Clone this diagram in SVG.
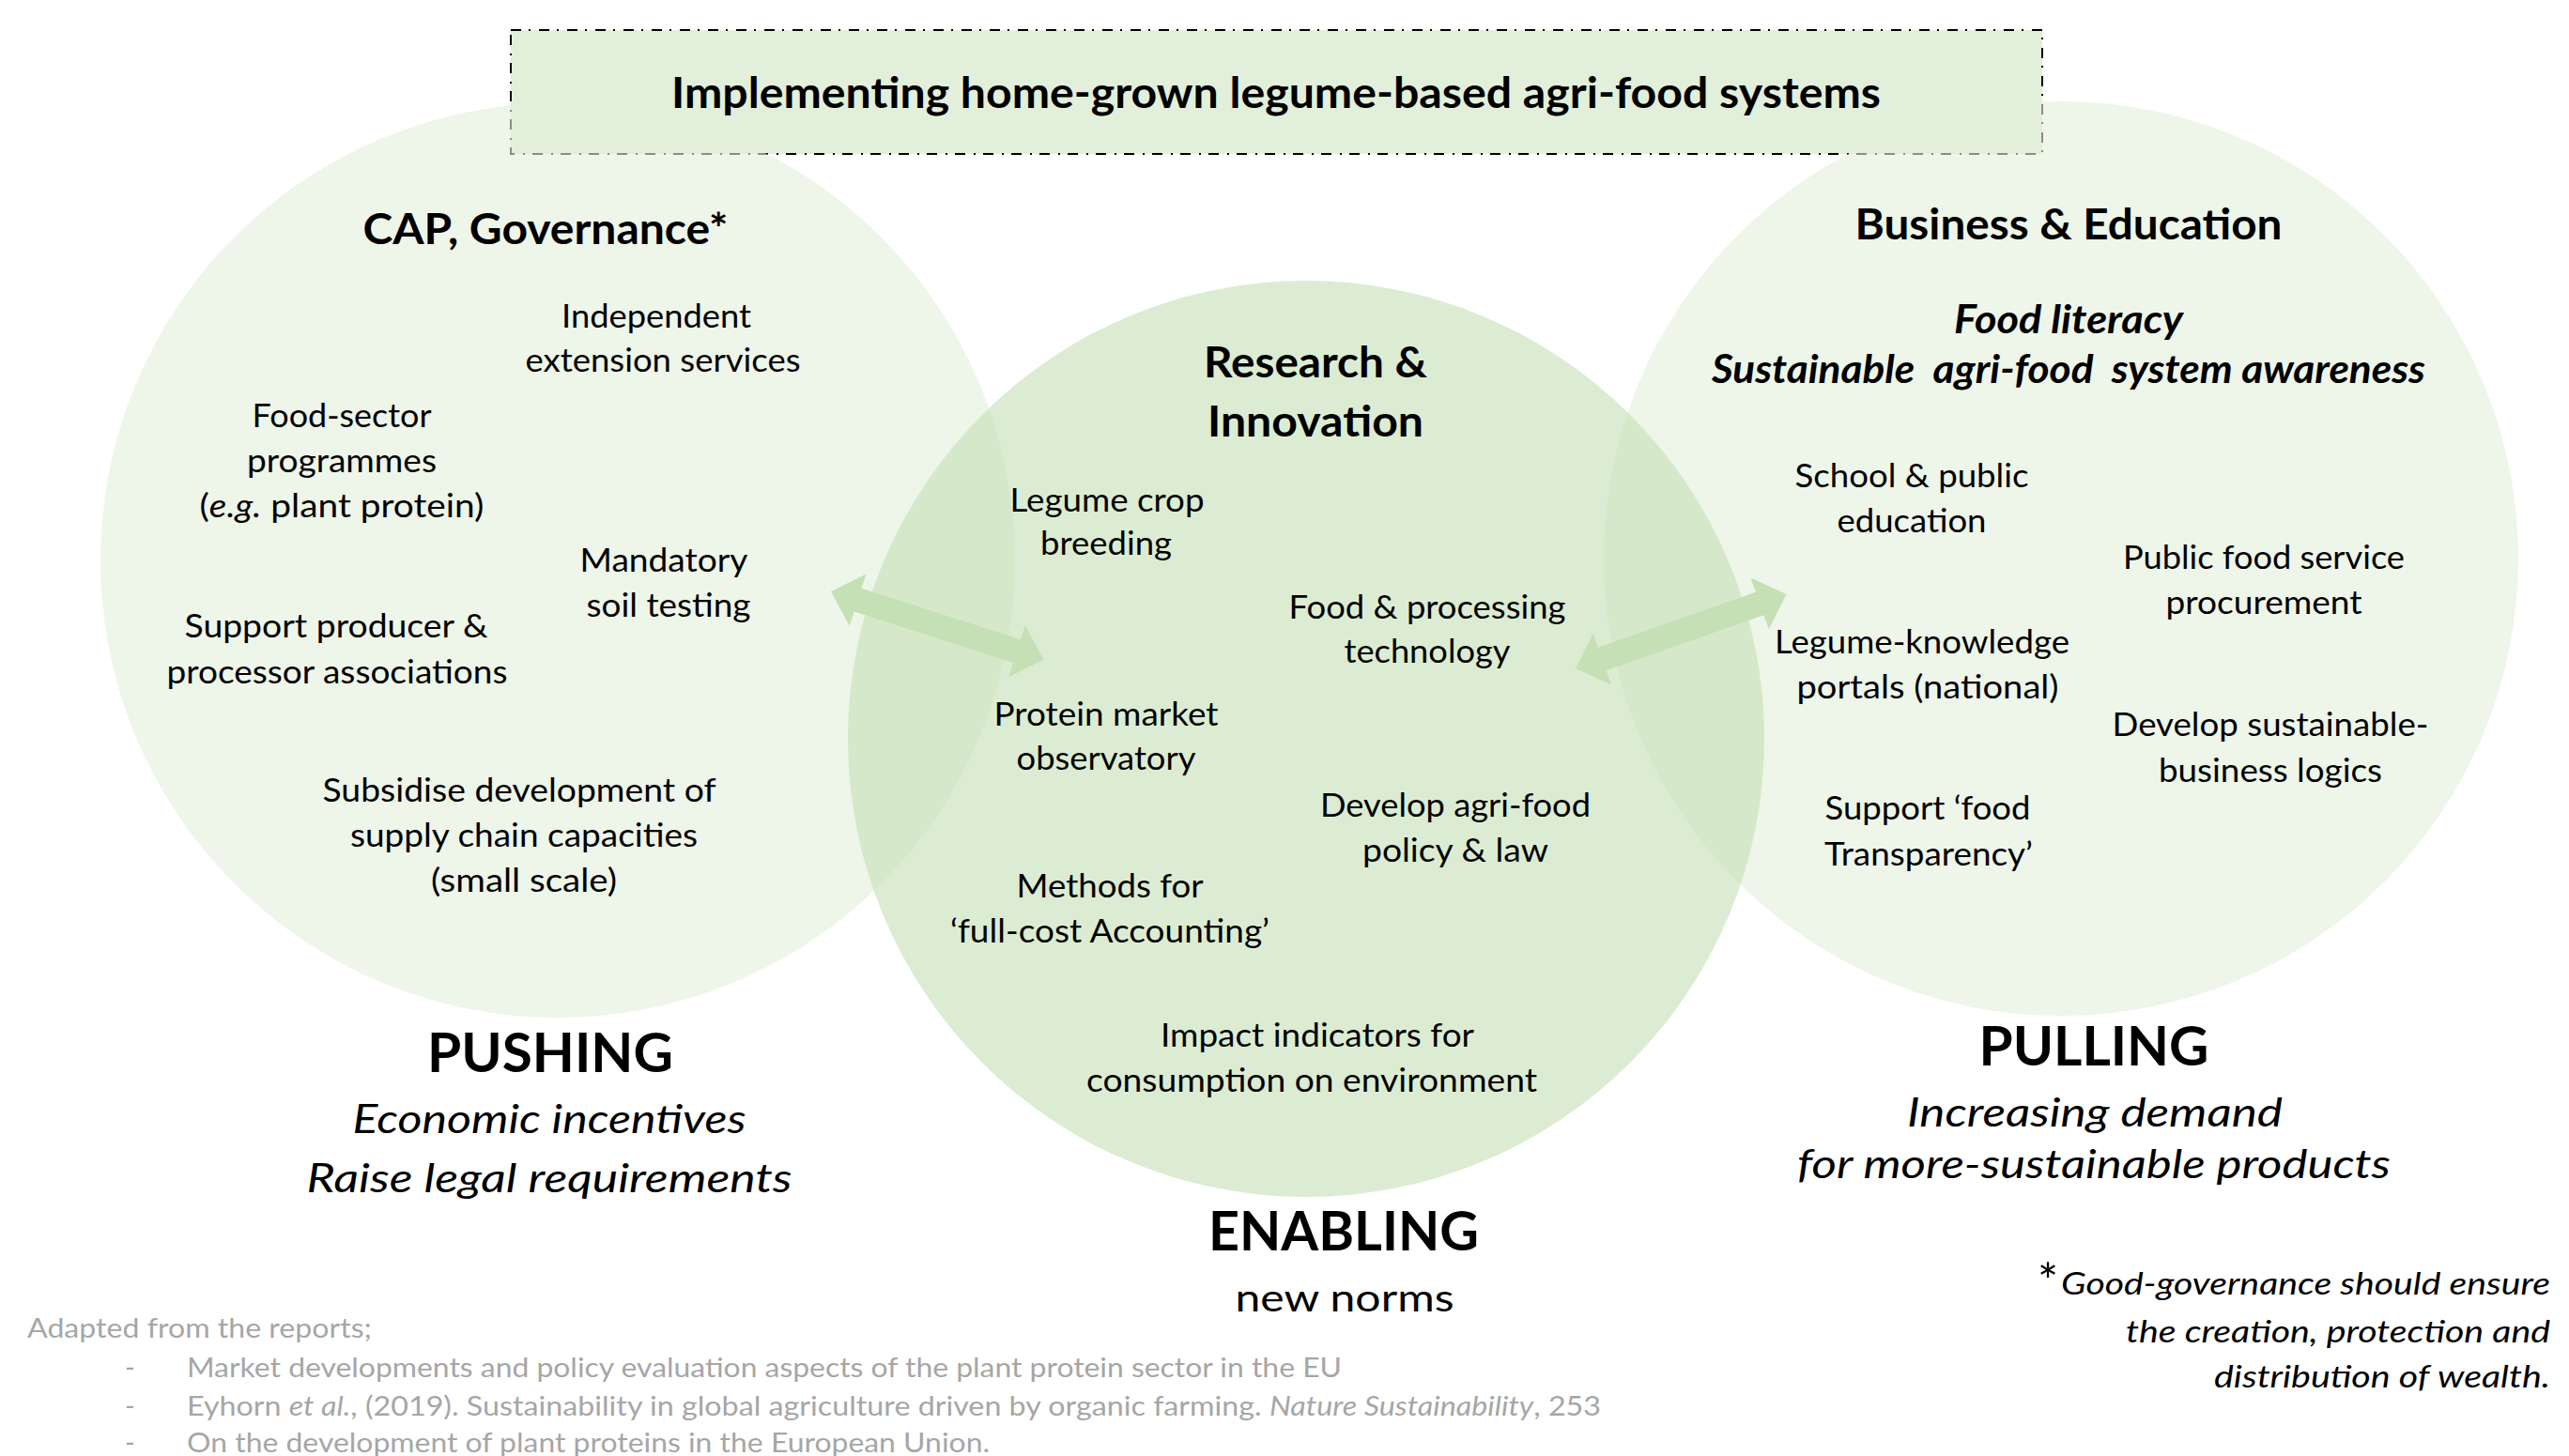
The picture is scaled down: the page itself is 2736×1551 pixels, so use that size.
<svg xmlns="http://www.w3.org/2000/svg" width="2736" height="1551" viewBox="0 0 2736 1551">
  <defs>
    <style>
      text { font-family: Lato, "Open Sans", "Liberation Sans", sans-serif; fill: #000; text-anchor: middle; }
      .hd { font-size: 46px; font-weight: 700; }
      .hi { font-size: 42px; font-weight: 700; font-style: italic; }
      .bd { font-size: 34px; }
      .big { font-size: 58px; font-weight: 700; }
      .sub { font-size: 43px; font-style: italic; }
      .norm { font-size: 40px; }
      .em { font-style: italic; }
      .fn { font-size: 33px; font-style: italic; text-anchor: end; }
      .ref { font-size: 29px; fill: #A6A6A6; text-anchor: start; }
      .side { fill: #E2EFDA; fill-opacity: 0.6; }
      .mid { fill: #C5E0B4; fill-opacity: 0.6; }
      .arrow { fill: #C5E0B4; }
      .frame { fill: #E2EFDA; stroke: #000; stroke-width: 2; stroke-dasharray: 11 8 2 9; }
    </style>
    <!-- two-headed block arrow laid along the x axis -->
    <polygon id="dbl-arrow" points="0,0 30,-29 30,-13 208,-13 208,-29 238,0 208,29 208,13 30,13 30,29"/>
  </defs>

  <rect width="2736" height="1551" fill="#fff"/>

  <!-- heading banner -->
  <g id="title">
    <rect class="frame" x="544" y="32" width="1631" height="132"/>
    <text class="hd" x="1359" y="115" textLength="1288" lengthAdjust="spacingAndGlyphs">Implementing home-grown legume-based agri-food systems</text>
  </g>

  <!-- left sphere: CAP, Governance -->
  <g id="node-cap">
    <circle class="side" cx="594" cy="597" r="487"/>
    <text class="hd" x="581" y="260" textLength="389" lengthAdjust="spacingAndGlyphs">CAP, Governance*</text>
    <text class="bd" x="699" y="349" textLength="202" lengthAdjust="spacingAndGlyphs">Independent</text>
    <text class="bd" x="706" y="396" textLength="293" lengthAdjust="spacingAndGlyphs">extension services</text>
    <text class="bd" x="364" y="455" textLength="191" lengthAdjust="spacingAndGlyphs">Food-sector</text>
    <text class="bd" x="364" y="503" textLength="202" lengthAdjust="spacingAndGlyphs">programmes</text>
    <text class="bd" x="364" y="551" textLength="303" lengthAdjust="spacingAndGlyphs">(<tspan class="em">e.g.</tspan> plant protein)</text>
    <text class="bd" x="707" y="609" textLength="179" lengthAdjust="spacingAndGlyphs">Mandatory</text>
    <text class="bd" x="712" y="657" textLength="175" lengthAdjust="spacingAndGlyphs">soil testing</text>
    <text class="bd" x="358" y="679" textLength="323" lengthAdjust="spacingAndGlyphs">Support producer &amp;</text>
    <text class="bd" x="359" y="728" textLength="363" lengthAdjust="spacingAndGlyphs">processor associations</text>
    <text class="bd" x="553" y="854" textLength="419" lengthAdjust="spacingAndGlyphs">Subsidise development of</text>
    <text class="bd" x="558" y="902" textLength="370" lengthAdjust="spacingAndGlyphs">supply chain capacities</text>
    <text class="bd" x="558" y="950" textLength="198" lengthAdjust="spacingAndGlyphs">(small scale)</text>
  </g>

  <!-- right sphere: Business & Education -->
  <g id="node-business">
    <circle class="side" cx="2195" cy="595" r="487"/>
    <text class="hd" x="2203" y="255" textLength="455" lengthAdjust="spacingAndGlyphs">Business &amp; Education</text>
    <text class="hi" x="2203" y="355" textLength="244" lengthAdjust="spacingAndGlyphs">Food literacy</text>
    <text class="hi" x="2203" y="408" textLength="760" lengthAdjust="spacingAndGlyphs" style="white-space: pre">Sustainable  agri-food  system awareness</text>
    <text class="bd" x="2036" y="519" textLength="249" lengthAdjust="spacingAndGlyphs">School &amp; public</text>
    <text class="bd" x="2036" y="567" textLength="159" lengthAdjust="spacingAndGlyphs">education</text>
    <text class="bd" x="2411" y="606" textLength="300" lengthAdjust="spacingAndGlyphs">Public food service</text>
    <text class="bd" x="2411" y="654" textLength="209" lengthAdjust="spacingAndGlyphs">procurement</text>
    <text class="bd" x="2047" y="696" textLength="314" lengthAdjust="spacingAndGlyphs">Legume-knowledge</text>
    <text class="bd" x="2053" y="744" textLength="279" lengthAdjust="spacingAndGlyphs">portals (national)</text>
    <text class="bd" x="2418" y="784" textLength="337" lengthAdjust="spacingAndGlyphs">Develop sustainable-</text>
    <text class="bd" x="2418" y="833" textLength="238" lengthAdjust="spacingAndGlyphs">business logics</text>
    <text class="bd" x="2053" y="873" textLength="219" lengthAdjust="spacingAndGlyphs">Support ‘food</text>
    <text class="bd" x="2054" y="922" textLength="222" lengthAdjust="spacingAndGlyphs">Transparency’</text>
  </g>

  <!-- centre sphere: Research & Innovation -->
  <g id="node-research">
    <circle class="mid" cx="1391" cy="787" r="488"/>
    <text class="hd" x="1401" y="402" textLength="238" lengthAdjust="spacingAndGlyphs">Research &amp;</text>
    <text class="hd" x="1401" y="465" textLength="230" lengthAdjust="spacingAndGlyphs">Innovation</text>
    <text class="bd" x="1179" y="545" textLength="207" lengthAdjust="spacingAndGlyphs">Legume crop</text>
    <text class="bd" x="1178" y="591" textLength="140" lengthAdjust="spacingAndGlyphs">breeding</text>
    <text class="bd" x="1520" y="659" textLength="295" lengthAdjust="spacingAndGlyphs">Food &amp; processing</text>
    <text class="bd" x="1520" y="706" textLength="177" lengthAdjust="spacingAndGlyphs">technology</text>
    <text class="bd" x="1178" y="773" textLength="239" lengthAdjust="spacingAndGlyphs">Protein market</text>
    <text class="bd" x="1178" y="820" textLength="191" lengthAdjust="spacingAndGlyphs">observatory</text>
    <text class="bd" x="1550" y="870" textLength="288" lengthAdjust="spacingAndGlyphs">Develop agri-food</text>
    <text class="bd" x="1550" y="918" textLength="198" lengthAdjust="spacingAndGlyphs">policy &amp; law</text>
    <text class="bd" x="1182" y="956" textLength="199" lengthAdjust="spacingAndGlyphs">Methods for</text>
    <text class="bd" x="1182" y="1004" textLength="340" lengthAdjust="spacingAndGlyphs">‘full-cost Accounting’</text>
    <text class="bd" x="1403" y="1115" textLength="334" lengthAdjust="spacingAndGlyphs">Impact indicators for</text>
    <text class="bd" x="1397" y="1163" textLength="480" lengthAdjust="spacingAndGlyphs">consumption on environment</text>
  </g>

  <!-- two-way links between the spheres -->
  <g id="connectors" class="arrow">
    <use href="#dbl-arrow" transform="translate(885,630) rotate(17.8)"/>
    <use href="#dbl-arrow" transform="translate(1678,712) rotate(-19.4)"/>
  </g>

  <!-- captions under each sphere -->
  <g id="label-pushing">
    <text class="big" x="586" y="1142" textLength="262" lengthAdjust="spacingAndGlyphs">PUSHING</text>
    <text class="sub" x="585" y="1207" textLength="419" lengthAdjust="spacingAndGlyphs">Economic incentives</text>
    <text class="sub" x="585" y="1270" textLength="517" lengthAdjust="spacingAndGlyphs">Raise legal requirements</text>
  </g>
  <g id="label-enabling">
    <text class="big" x="1431" y="1332" textLength="288" lengthAdjust="spacingAndGlyphs">ENABLING</text>
    <text class="norm" x="1432" y="1397" textLength="233" lengthAdjust="spacingAndGlyphs">new norms</text>
  </g>
  <g id="label-pulling">
    <text class="big" x="2230" y="1135" textLength="245" lengthAdjust="spacingAndGlyphs">PULLING</text>
    <text class="sub" x="2231" y="1200" textLength="400" lengthAdjust="spacingAndGlyphs">Increasing demand</text>
    <text class="sub" x="2230" y="1255" textLength="632" lengthAdjust="spacingAndGlyphs">for more-sustainable products</text>
  </g>

  <!-- footnote on governance -->
  <g id="footnote">
    <text x="2181" y="1384" style="font-size: 52px">*</text>
    <text class="fn" x="2716" y="1379" textLength="521" lengthAdjust="spacingAndGlyphs">Good-governance should ensure</text>
    <text class="fn" x="2716" y="1430" textLength="452" lengthAdjust="spacingAndGlyphs">the creation, protection and</text>
    <text class="fn" x="2716" y="1478" textLength="358" lengthAdjust="spacingAndGlyphs">distribution of wealth.</text>
  </g>

  <!-- sources -->
  <g id="sources">
    <text class="ref" x="29" y="1425" textLength="367" lengthAdjust="spacingAndGlyphs">Adapted from the reports;</text>
    <text class="ref" x="133" y="1467">-</text>
    <text class="ref" x="199" y="1467" textLength="1230" lengthAdjust="spacingAndGlyphs">Market developments and policy evaluation aspects of the plant protein sector in the EU</text>
    <text class="ref" x="133" y="1508">-</text>
    <text class="ref" x="199" y="1508" textLength="1506" lengthAdjust="spacingAndGlyphs">Eyhorn <tspan class="em">et al.</tspan>, (2019). Sustainability in global agriculture driven by organic farming. <tspan class="em">Nature Sustainability</tspan>, 253</text>
    <text class="ref" x="133" y="1547">-</text>
    <text class="ref" x="199" y="1547" textLength="855" lengthAdjust="spacingAndGlyphs">On the development of plant proteins in the European Union.</text>
  </g>
</svg>
